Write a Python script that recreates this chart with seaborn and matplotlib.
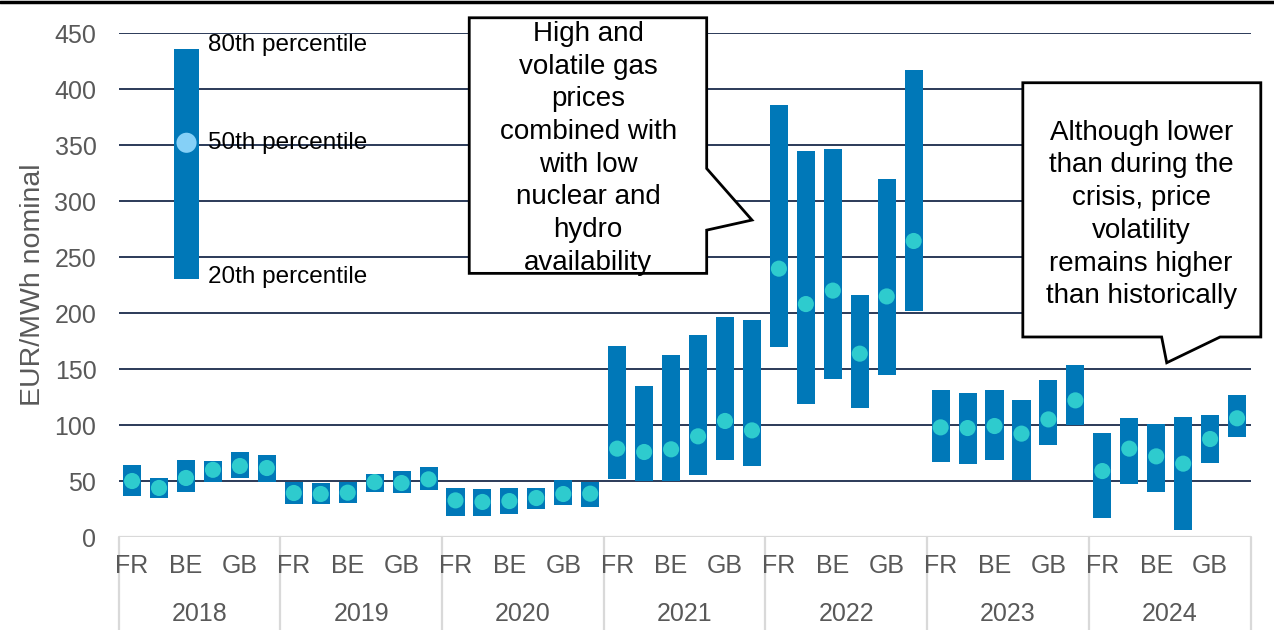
import numpy as np
import pandas as pd
import matplotlib
matplotlib.use("Agg")
import matplotlib.pyplot as plt
from matplotlib.patches import Polygon
from matplotlib.lines import Line2D
import seaborn as sns

# ---- data: day-ahead price percentiles (EUR/MWh), six markets per year ----
years = ["2018", "2019", "2020", "2021", "2022", "2023", "2024"]
country_labels = ["FR", "BE", "GB"]          # labelled slots 0, 2, 4 of each year
country_slots = [0, 2, 4]
markets_per_year = 6

p20 = [36.6, 34.8, 40.2, 49.0, 52.7, 49.0,
       29.8, 29.8, 30.7, 40.2, 39.0, 42.3,
       19.0, 19.0, 20.2, 25.0, 28.3, 26.8,
       52.0, 50.0, 50.0, 55.7, 68.5, 63.0,
       169.6, 119.0, 140.8, 115.5, 144.6, 201.5,
       66.7, 65.5, 68.5, 50.6, 81.8, 100.3,
       17.3, 47.6, 39.9, 6.5, 66.0, 89.3]
p50 = [50.0, 43.8, 52.7, 60.0, 63.4, 61.6,
       39.3, 38.4, 39.6, 49.0, 48.2, 51.5,
       32.7, 31.3, 32.1, 34.8, 38.4, 38.7,
       78.9, 75.9, 78.3, 89.9, 103.6, 95.2,
       239.6, 208.0, 220.0, 163.7, 214.8, 264.3,
       97.9, 97.3, 99.1, 92.3, 105.0, 122.0,
       58.9, 78.9, 72.0, 65.5, 87.5, 106.0]
p80 = [64.6, 52.7, 69.0, 67.6, 75.9, 72.9,
       49.0, 48.2, 49.0, 56.0, 58.6, 62.5,
       44.0, 42.6, 44.0, 44.0, 50.6, 49.0,
       170.8, 135.0, 162.8, 180.4, 196.4, 194.0,
       385.5, 345.0, 346.0, 215.7, 319.3, 416.9,
       131.5, 128.9, 131.0, 122.0, 139.9, 153.3,
       92.9, 106.5, 100.6, 107.0, 108.6, 127.0]

# key bar explaining the percentiles
key_low, key_mid, key_high = 230, 352, 436
key_labels = ["80th percentile", "50th percentile", "20th percentile"]

callout_left = ("High and\nvolatile gas\nprices\ncombined with\nwith low\n"
                "nuclear and\nhydro\navailability")
callout_right = ("Although lower\nthan during the\ncrisis, price\nvolatility\n"
                 "remains higher\nthan historically")

# ---- styling ----
BAR = "#0078B8"
DOT = "#2ECBCE"
KEY_DOT = "#85D0F7"
GRID = "#2B3A58"
AXIS_GREY = "#D9D9D9"
TEXT_GREY = "#595959"

sns.set_theme(style="white")
plt.rcParams["font.family"] = ["Liberation Sans", "DejaVu Sans"]

df = pd.DataFrame({
    "pos": np.arange(len(p50)),
    "low": p20,
    "mid": p50,
    "high": p80,
})
df["span"] = df["high"] - df["low"]

fig = plt.figure(figsize=(12.74, 6.3), dpi=100)
ax = fig.add_axes([0.0931, 0.1476, 0.8885, 0.8000])

# floating percentile bars (20th -> 80th) and median dots
sns.barplot(data=df, x="pos", y="span", bottom=df["low"].to_numpy(),
            native_scale=True, width=0.67, color=BAR, saturation=1,
            errorbar=None, linewidth=0, ax=ax, zorder=2)
sns.scatterplot(data=df, x="pos", y="mid", s=135, color=DOT,
                edgecolor="none", legend=False, ax=ax, zorder=3)

# key bar
ax.bar([2.02], [key_high - key_low], bottom=[key_low], width=0.93,
       color=BAR, linewidth=0, zorder=2)
ax.scatter([2.02], [key_mid], s=210, color=KEY_DOT, edgecolor="none", zorder=3)
for lab, yv in zip(key_labels, [439, key_mid, 232]):
    ax.text(2.82, yv, lab, fontsize=17.5, color="black", ha="left",
            va="center", zorder=4)

n = len(p50)
ax.set_xlim(-0.5, n - 0.5)
ax.set_ylim(0, 450)
ax.set_yticks(np.arange(0, 451, 50))
ax.tick_params(axis="y", length=0, pad=16, labelsize=18, labelcolor=TEXT_GREY)
ax.set_xticks([])
ax.set_xlabel("")
ax.set_ylabel("EUR/MWh nominal", fontsize=20.5, color=TEXT_GREY, labelpad=6)
for s in ax.spines.values():
    s.set_visible(False)

ax.set_axisbelow(True)
ax.grid(axis="y", color=GRID, linewidth=1.4)
ax.grid(axis="x", visible=False)
ax.yaxis.get_gridlines()[0].set_color(AXIS_GREY)
ax.yaxis.get_gridlines()[0].set_linewidth(1.6)

# two-level category axis: markets and years
y_country = -25.9
y_year = -68.5
for g, yr in enumerate(years):
    start = g * markets_per_year
    for lab, slot in zip(country_labels, country_slots):
        ax.text(start + slot, y_country, lab, fontsize=18, color=TEXT_GREY,
                ha="center", va="center", clip_on=False)
    ax.text(start + (markets_per_year - 1) / 2, y_year, yr, fontsize=18,
            color=TEXT_GREY, ha="center", va="center", clip_on=False)
for g in range(len(years) + 1):
    xb = g * markets_per_year - 0.5
    ax.plot([xb, xb], [0, -90], color=AXIS_GREY, linewidth=1.6,
            clip_on=False, zorder=1)

# callouts
left_box = [(12.51, 463.6), (21.32, 463.6), (21.32, 329), (23.0, 283),
            (21.32, 274), (21.32, 235.4), (12.51, 235.4)]
ax.add_patch(Polygon(left_box, closed=True, facecolor="white",
                     edgecolor="black", linewidth=2.0, zorder=5, clip_on=False))
ax.text(16.92, 347, callout_left, fontsize=20, ha="center", va="center",
        linespacing=1.335, color="black", zorder=6, clip_on=False)

right_box = [(33.05, 405.6), (41.88, 405.6), (41.88, 178.6), (40.37, 178.6),
             (38.39, 155.6), (38.2, 178.6), (33.05, 178.6)]
ax.add_patch(Polygon(right_box, closed=True, facecolor="white",
                     edgecolor="black", linewidth=2.0, zorder=5, clip_on=False))
ax.text(37.44, 288.0, callout_right, fontsize=20, ha="center", va="center",
        linespacing=1.335, color="black", zorder=6, clip_on=False)

# frame line along the top edge
fig.add_artist(Line2D([0, 1], [0.997, 0.997], color="black", linewidth=2.5))

fig.savefig("out.png", dpi=100)
